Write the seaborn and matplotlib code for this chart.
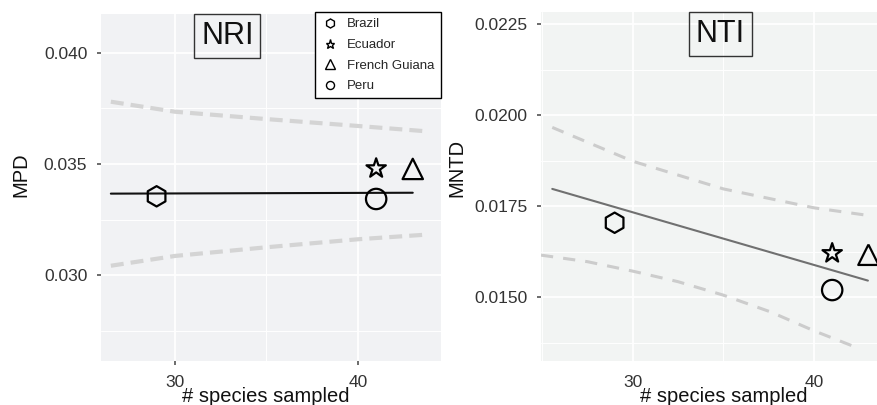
import matplotlib
matplotlib.use("Agg")
import matplotlib.pyplot as plt
from matplotlib.lines import Line2D
from matplotlib.ticker import MultipleLocator, AutoMinorLocator, FormatStrFormatter
import pandas as pd
import seaborn as sns

# --- values ---
countries = ["Brazil", "Ecuador", "French Guiana", "Peru"]
n_species = [29, 41, 43, 41]
mpd = [0.03355, 0.03480, 0.03478, 0.03343]
mntd = [0.01705, 0.01621, 0.01617, 0.01520]

# fitted regression lines
nri_fit_x = [26.5, 43.0]
nri_fit_y = [0.03367, 0.03371]
nti_fit_x = [25.56, 42.97]
nti_fit_y = [0.01798, 0.01546]

# dashed envelopes
nri_band_x = [26.5, 30, 35, 40, 43.6]
nri_upper = [0.03780, 0.03735, 0.03702, 0.03671, 0.03648]
nri_lower = [0.03043, 0.03087, 0.03126, 0.03162, 0.03182]
nti_upper_x = [25.56, 30, 35, 40, 43.0]
nti_upper = [0.01967, 0.01874, 0.01798, 0.01746, 0.01725]
nti_lower_x = [24.94, 27.5, 30, 32.5, 35, 37.6, 40, 42.3]
nti_lower = [0.01616, 0.01598, 0.01572, 0.01543, 0.01506, 0.01460, 0.01408, 0.01363]

markers = {"Brazil": "h", "Ecuador": "*", "French Guiana": "^", "Peru": "o"}

pts = pd.DataFrame({"country": countries, "n": n_species, "mpd": mpd, "mntd": mntd})

# --- style ---
sns.set_style("darkgrid", {"axes.facecolor": "#f1f2f4", "grid.color": "white"})
plt.rcParams["font.family"] = ["Liberation Sans", "DejaVu Sans"]

fig = plt.figure(figsize=(8.78, 4.05), dpi=100)
ax1 = fig.add_axes([0.1150, 0.1086, 0.3872, 0.8568])
ax2 = fig.add_axes([0.6162, 0.1086, 0.4169, 0.8625])
ax2.set_facecolor("#f2f4f3")


def draw_points(ax, ycol):
    sns.scatterplot(data=pts, x="n", y=ycol, style="country", markers=markers,
                    s=215, facecolor="none", edgecolor="black", linewidth=1.6,
                    legend=False, zorder=4, ax=ax)


def style_axis(ax, xlim, ylim, ystep, xticks_on):
    ax.set_xlim(*xlim)
    ax.set_ylim(*ylim)
    ax.xaxis.set_major_locator(MultipleLocator(10))
    ax.yaxis.set_major_locator(MultipleLocator(ystep))
    ax.xaxis.set_minor_locator(AutoMinorLocator(2))
    ax.yaxis.set_minor_locator(AutoMinorLocator(2))
    ax.grid(which="major", color="white", linewidth=1.3)
    ax.grid(which="minor", color="white", linewidth=0.7)
    for sp in ax.spines.values():
        sp.set_visible(False)
    ax.tick_params(which="major", left=True, bottom=xticks_on, length=3, width=1.1,
                   color="#444444", pad=6.8, labelsize=12.5, labelcolor="#333333")
    ax.tick_params(which="minor", length=0)


# ─── NRI panel ───
sns.lineplot(x=nri_band_x, y=nri_upper, color="#d4d4d4", linewidth=3,
             linestyle=(0, (3.1, 1.7)), errorbar=None, ax=ax1)
sns.lineplot(x=nri_band_x, y=nri_lower, color="#d4d4d4", linewidth=3,
             linestyle=(0, (3.1, 1.7)), errorbar=None, ax=ax1)
sns.lineplot(x=nri_fit_x, y=nri_fit_y, color="#111111", linewidth=1.5,
             errorbar=None, ax=ax1)
draw_points(ax1, "mpd")
style_axis(ax1, (25.96, 44.54), (0.02615, 0.04174), 0.005, True)
ax1.yaxis.set_major_formatter(FormatStrFormatter("%.3f"))

# ─── NTI panel ───
sns.lineplot(x=nti_upper_x, y=nti_upper, color="#cccccc", linewidth=2.2,
             linestyle=(0, (4, 3.3)), errorbar=None, ax=ax2)
sns.lineplot(x=nti_lower_x, y=nti_lower, color="#cccccc", linewidth=2.2,
             linestyle=(0, (4, 3.3)), errorbar=None, ax=ax2)
sns.lineplot(x=nti_fit_x, y=nti_fit_y, color="#707070", linewidth=1.5,
             errorbar=None, ax=ax2)
draw_points(ax2, "mntd")
style_axis(ax2, (24.94, 45.13), (0.01325, 0.02285), 0.0025, False)
ax2.yaxis.set_major_formatter(FormatStrFormatter("%.4f"))

# axis labels
for ax, ylab, xx, yy, xl in [(ax1, "MPD", -0.235, 0.536, 0.485),
                             (ax2, "MNTD", -0.23, 0.554, 0.5)]:
    ax.set_xlabel("# species sampled", fontsize=14.5, color="#111111")
    ax.set_ylabel(ylab, fontsize=14.5, color="#111111")
    ax.xaxis.set_label_coords(xl, -0.101)
    ax.xaxis.label.set_va("center")
    ax.yaxis.set_label_coords(xx, yy)
    ax.yaxis.label.set_va("center")

# panel tags
for ax, tag, tx in [(ax1, "NRI", 0.372), (ax2, "NTI", 0.49)]:
    ax.text(tx, 0.936, tag, transform=ax.transAxes, ha="center", va="center",
            fontsize=22, color="#111111", zorder=6, clip_on=False,
            bbox=dict(boxstyle="square,pad=0.22", fc="none", ec="#333333", lw=1.0))

# legend
handles = [Line2D([], [], marker=markers[c], linestyle="none", mfc="none",
                  mec="black", ms=6.5 if c != "Peru" else 5.8, mew=1.0, label=c)
           for c in countries]
leg = ax1.legend(handles=handles, loc="upper right", bbox_to_anchor=(0.999, 1.005),
                 frameon=True, fancybox=False, edgecolor="black", facecolor="white",
                 framealpha=1, fontsize=9.5, borderpad=0.45, labelspacing=0.64,
                 handlelength=1.4, handletextpad=0.6, borderaxespad=0)
leg.get_frame().set_linewidth(1.0)
leg.set_zorder(7)

fig.savefig("out.png", dpi=100)
